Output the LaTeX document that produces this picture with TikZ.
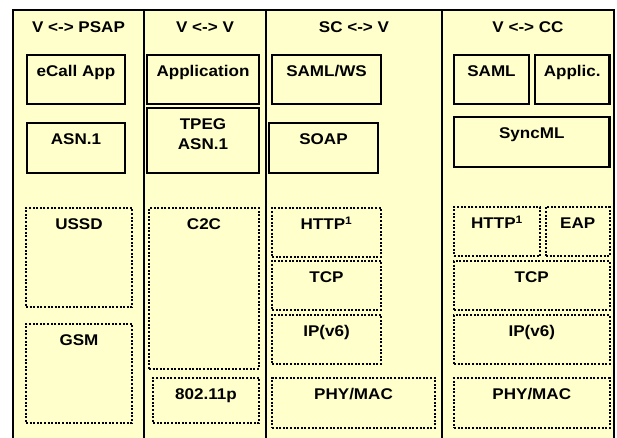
\documentclass[tikz,border=0pt]{standalone}
\usepackage{fontspec}
\setmainfont{Liberation Sans}[FakeStretch=1.1]
\definecolor{paper}{HTML}{FFFFCC}

% one protocol layer: name, style, x1, y1, x2, y2, label
\newcommand\protolayer[7]{%
  \node[#2, minimum width=#5-#3, minimum height=#6-#4, anchor=north west] (#1) at (#3,#4) {};
  \node[lbl] (#1-txt) at ([yshift=-21.5pt]#1.north) {#7};
}

\begin{document}
\begin{tikzpicture}[x=1pt,y=-1pt,
  column/.style={rectangle, fill=paper, draw, line width=2.4pt, inner sep=0pt, outer sep=0pt},
  solidbox/.style={rectangle, draw, line width=2.2pt, inner sep=0pt, outer sep=0pt},
  dotbox/.style={rectangle, draw, line width=2pt, dash pattern=on 2pt off 1.6pt, inner sep=0pt, outer sep=0pt},
  lbl/.style={font=\bfseries\fontsize{15.5}{20}\selectfont, inner sep=0pt, anchor=base}]

\useasboundingbox (0,0) rectangle (617,437);
\clip (0,0) rectangle (617,437);

% the four stack columns (open at the bottom)
\node[column, minimum width=131, minimum height=440, anchor=north west] (c1) at (13,10) {};
\node[column, minimum width=122, minimum height=440, anchor=north west] (c2) at (144,10) {};
\node[column, minimum width=176, minimum height=440, anchor=north west] (c3) at (266,10) {};
\node[column, minimum width=172, minimum height=440, anchor=north west] (c4) at (442,10) {};

% column headings
\node[lbl] (h1) at ([yshift=-22pt]c1.north) {V <-> PSAP};
\node[lbl] (h2) at ([yshift=-22pt]c2.north) {V <-> V};
\node[lbl] (h3) at ([yshift=-22pt]c3.north) {SC <-> V};
\node[lbl] (h4) at ([yshift=-22pt]c4.north) {V <-> CC};

% vehicle <-> PSAP
\protolayer{ecall}{solidbox}{27}{55}{125}{104}{eCall App}
\protolayer{asn}{solidbox}{27}{123}{125}{173}{ASN.1}
\protolayer{ussd}{dotbox}{26}{208}{132}{307}{USSD}
\protolayer{gsm}{dotbox}{26}{324}{132}{423}{GSM}

% vehicle <-> vehicle
\protolayer{app}{solidbox}{147}{55}{259}{104}{Application}
\node[solidbox, minimum width=112, minimum height=65, anchor=north west] (tpeg) at (147,108) {};
% base anchor of a two-line label sits on its last line
\node[lbl, align=center] (tpeg-txt) at ([yshift=-41pt]tpeg.north) {TPEG\\ASN.1};
\protolayer{c2c}{dotbox}{149}{208}{259}{369}{C2C}
\protolayer{wave}{dotbox}{153}{378}{259}{423}{802.11p}

% service centre <-> vehicle
\protolayer{samlws}{solidbox}{272}{55}{381}{104}{SAML/WS}
\protolayer{soap}{solidbox}{269}{123}{378}{173}{SOAP}
\protolayer{httpa}{dotbox}{272}{208}{381}{257}{HTTP\textsuperscript{1}}
\protolayer{tcpa}{dotbox}{272}{261}{381}{310}{TCP}
\protolayer{ipa}{dotbox}{272}{315}{381}{364}{IP(v6)}
\protolayer{phya}{dotbox}{272}{378}{435}{428}{PHY/MAC}

% vehicle <-> control centre
\protolayer{saml}{solidbox}{454}{55}{529}{104}{SAML}
\protolayer{applic}{solidbox}{535}{55}{609.5}{104}{Applic.}
\protolayer{syncml}{solidbox}{454}{117}{609.5}{167}{SyncML}
\protolayer{httpb}{dotbox}{454}{207}{540}{256}{HTTP\textsuperscript{1}}
\protolayer{eap}{dotbox}{546}{207}{609.5}{256}{EAP}
\protolayer{tcpb}{dotbox}{454}{261}{609.5}{310}{TCP}
\protolayer{ipb}{dotbox}{454}{315}{609.5}{364}{IP(v6)}
\protolayer{phyb}{dotbox}{454}{378}{609.5}{428}{PHY/MAC}
\end{tikzpicture}
\end{document}
